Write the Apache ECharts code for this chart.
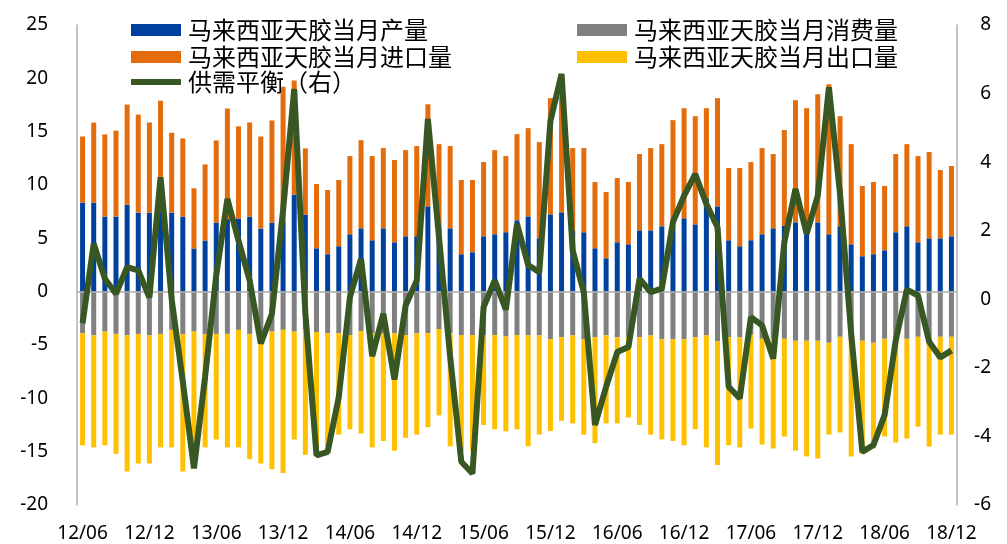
<!DOCTYPE html>
<html>
<head>
<meta charset="utf-8">
<script src="https://cdn.jsdelivr.net/npm/echarts@6/dist/echarts.min.js"></script>
<style>
  html, body { margin: 0; padding: 0; background: #fff; }
  #chart { width: 1007px; height: 544px; }
</style>
</head>
<body>
<div id="chart"></div>
<script>
// 月份（12/06 - 18/12）
var months = [
  '12/06', '12/07', '12/08', '12/09', '12/10', '12/11', '12/12',
  '13/01', '13/02', '13/03', '13/04', '13/05', '13/06', '13/07', '13/08', '13/09', '13/10', '13/11', '13/12',
  '14/01', '14/02', '14/03', '14/04', '14/05', '14/06', '14/07', '14/08', '14/09', '14/10', '14/11', '14/12',
  '15/01', '15/02', '15/03', '15/04', '15/05', '15/06', '15/07', '15/08', '15/09', '15/10', '15/11', '15/12',
  '16/01', '16/02', '16/03', '16/04', '16/05', '16/06', '16/07', '16/08', '16/09', '16/10', '16/11', '16/12',
  '17/01', '17/02', '17/03', '17/04', '17/05', '17/06', '17/07', '17/08', '17/09', '17/10', '17/11', '17/12',
  '18/01', '18/02', '18/03', '18/04', '18/05', '18/06', '18/07', '18/08', '18/09', '18/10', '18/11', '18/12'
];

// 当月产量
var production = [
  8.35, 8.35, 7.04, 7.04, 8.16, 7.41, 7.41,
  7.5, 7.41, 7.04, 4.05, 4.8, 6.48, 6.8, 6.85, 7.04, 5.92, 6.48, 6.7,
  9.1, 7.22, 4.07, 3.51, 4.26, 5.38, 5.94, 4.82, 5.94, 4.63, 5.19, 5.19,
  8.0, 6.0, 5.94, 3.51, 3.7, 5.19, 5.38, 5.57, 6.69, 7.06, 5.0, 7.25,
  7.44, 5.7, 5.57, 4.07, 3.13, 4.63, 4.44, 5.75, 5.75, 6.13, 6.2, 6.88,
  6.31, 8.75, 8.0, 4.82, 4.26, 4.82, 5.38, 5.94, 6.2, 6.5, 6.0, 6.5,
  5.38, 6.13, 4.44, 3.32, 3.51, 3.88, 5.57, 6.13, 4.63, 5.0, 5.0, 5.19
];

// 当月进口量
var imports = [
  6.2, 7.5, 7.7, 8.06, 9.38, 9.19, 8.45,
  10.4, 7.49, 7.32, 5.64, 7.13, 7.7, 10.37, 8.65, 8.82, 8.63, 9.57, 12.5,
  10.7, 6.21, 6.02, 6.02, 6.21, 7.33, 8.26, 7.89, 7.52, 7.71, 8.08, 8.46,
  9.57, 7.83, 7.71, 6.96, 6.77, 6.96, 7.89, 7.14, 8.08, 8.27, 9.02, 10.89,
  10.86, 7.76, 7.89, 6.21, 6.21, 6.02, 5.84, 7.15, 7.71, 7.7, 9.88, 10.32,
  10.14, 8.45, 10.14, 6.77, 7.33, 7.33, 8.08, 6.96, 8.95, 11.45, 11.2, 12.01,
  14.07, 10.32, 9.39, 6.59, 6.77, 6.03, 7.33, 7.7, 8.08, 8.09, 6.4, 6.59
];

// 当月消费量（负向）
var consumption = [
  -3.9, -4.1, -3.74, -3.96, -4.1, -3.96, -4.1,
  -3.96, -3.58, -3.96, -3.74, -3.96, -3.96, -3.96, -3.58, -3.96, -3.96, -3.74, -3.58,
  -3.74, -3.5, -3.8, -3.9, -3.9, -4.07, -3.7, -3.9, -3.9, -3.9, -4.07, -3.9,
  -3.9, -3.5, -3.9, -4.07, -4.07, -4.07, -4.07, -4.2, -4.07, -4.1, -4.1, -4.46,
  -4.27, -4.1, -4.46, -4.27, -4.1, -4.27, -4.27, -4.27, -4.1, -4.46, -4.46, -4.46,
  -4.27, -4.1, -4.65, -4.27, -4.27, -4.04, -4.42, -4.42, -4.42, -4.6, -4.6, -4.6,
  -4.79, -4.23, -4.42, -4.6, -4.79, -4.42, -4.6, -4.42, -4.23, -4.23, -4.23, -4.23
];

// 当月出口量（负向）
var exports = [
  -10.5, -10.5, -10.66, -11.24, -12.75, -12.14, -12.0,
  -10.64, -11.02, -12.89, -11.06, -10.64, -9.9, -10.64, -11.02, -11.74, -12.14, -12.92, -13.42,
  -10.12, -11.8, -11.4, -10.6, -9.5, -8.83, -9.6, -10.7, -10.1, -11.0, -9.63, -9.5,
  -8.8, -8.1, -10.6, -10.9, -10.8, -8.43, -8.83, -8.9, -8.83, -10.4, -9.3, -8.61,
  -7.83, -8.25, -8.94, -9.93, -8.25, -8.08, -7.53, -8.23, -9.3, -9.39, -9.54, -9.94,
  -8.63, -10.5, -11.6, -10.13, -10.33, -8.79, -9.91, -10.28, -9.16, -10.3, -10.85, -11.04,
  -8.61, -8.97, -11.03, -10.6, -9.91, -9.16, -9.54, -9.35, -8.42, -10.29, -9.17, -9.17
];

// 供需平衡（右轴）
var balance = [
  -0.7, 1.62, 0.6, 0.16, 0.94, 0.84, 0.05,
  3.56, 0.0, -2.4, -4.93, -2.26, 0.7, 2.93, 1.71, 0.55, -1.29, -0.42, 2.6,
  6.13, -0.4, -4.55, -4.45, -2.85, 0.06, 1.18, -1.66, -0.42, -2.34, -0.18, 0.55,
  5.26, 1.8, -1.68, -4.74, -5.08, -0.23, 0.55, -0.3, 2.2, 1.0, 0.79, 5.2,
  6.57, 1.42, 0.2, -3.67, -2.55, -1.54, -1.39, 0.6, 0.21, 0.31, 2.25, 3.02,
  3.65, 2.78, 2.1, -2.55, -2.89, -0.52, -0.76, -1.73, 1.67, 3.22, 1.91, 3.02,
  6.18, 3.07, -1.0, -4.45, -4.25, -3.38, -1.2, 0.28, 0.11, -1.24, -1.7, -1.49
];

var names = ['马来西亚天胶当月产量', '马来西亚天胶当月消费量', '马来西亚天胶当月进口量',
  '马来西亚天胶当月出口量', '供需平衡（右）'];

var cjk = '"Noto Sans CJK SC", sans-serif';
var num = '"Noto Sans", sans-serif';

function legendItem(name, left, top, h) {
  return {
    data: [name],
    left: left,
    top: top,
    icon: 'rect',
    itemWidth: 50,
    itemHeight: h,
    selectedMode: false,
    textStyle: { fontFamily: cjk, fontSize: 24, color: '#000', lineHeight: 24, padding: [0, 0, 0, 2] }
  };
}

var chart = echarts.init(document.getElementById('chart'));

var option = {
  animation: false,
  legend: [
    legendItem(names[0], 126, 13, 12),
    legendItem(names[2], 126, 40, 12),
    legendItem(names[4], 126, 65, 6),
    legendItem(names[1], 572, 13, 12),
    legendItem(names[3], 572, 40, 12)
  ],
  grid: { left: 77, right: 50, top: 25, bottom: 39 },
  xAxis: {
    type: 'category',
    data: months,
    axisLine: { show: false },
    axisTick: { show: false },
    axisLabel: { interval: 5, margin: 19, fontFamily: num, fontSize: 19, color: '#000' }
  },
  yAxis: [
    {
      type: 'value', min: -20, max: 25, interval: 5,
      splitLine: { show: false },
      axisLine: { show: true, lineStyle: { color: '#b0b0b0', width: 1.5 } },
      axisTick: { show: false },
      axisLabel: { margin: 29, fontFamily: num, fontSize: 19, color: '#000' }
    },
    {
      type: 'value', min: -6, max: 8, interval: 2,
      splitLine: { show: false },
      axisLine: { show: true, lineStyle: { color: '#b0b0b0', width: 1.5 } },
      axisTick: { show: false },
      axisLabel: { margin: 34, align: 'right', fontFamily: num, fontSize: 19, color: '#000' }
    }
  ],
  series: [
    {
      name: names[0], type: 'bar', stack: 'all', barWidth: 5,
      itemStyle: { color: '#0041a0' }, data: production,
      markLine: {
        silent: true, symbol: 'none', label: { show: false },
        lineStyle: { color: '#ababab', width: 1.5, type: 'solid' },
        data: [{ yAxis: 0 }]
      }
    },
    { name: names[2], type: 'bar', stack: 'all', barWidth: 5, itemStyle: { color: '#e46c0a' }, data: imports },
    { name: names[1], type: 'bar', stack: 'all', barWidth: 5, itemStyle: { color: '#808080' }, data: consumption },
    { name: names[3], type: 'bar', stack: 'all', barWidth: 5, itemStyle: { color: '#ffc000' }, data: exports },
    {
      name: names[4], type: 'line', yAxisIndex: 1, z: 10,
      showSymbol: false, symbol: 'none',
      itemStyle: { color: '#385723' },
      lineStyle: { color: '#385723', width: 6 },
      data: balance
    }
  ]
};

chart.setOption(option);
</script>
</body>
</html>
